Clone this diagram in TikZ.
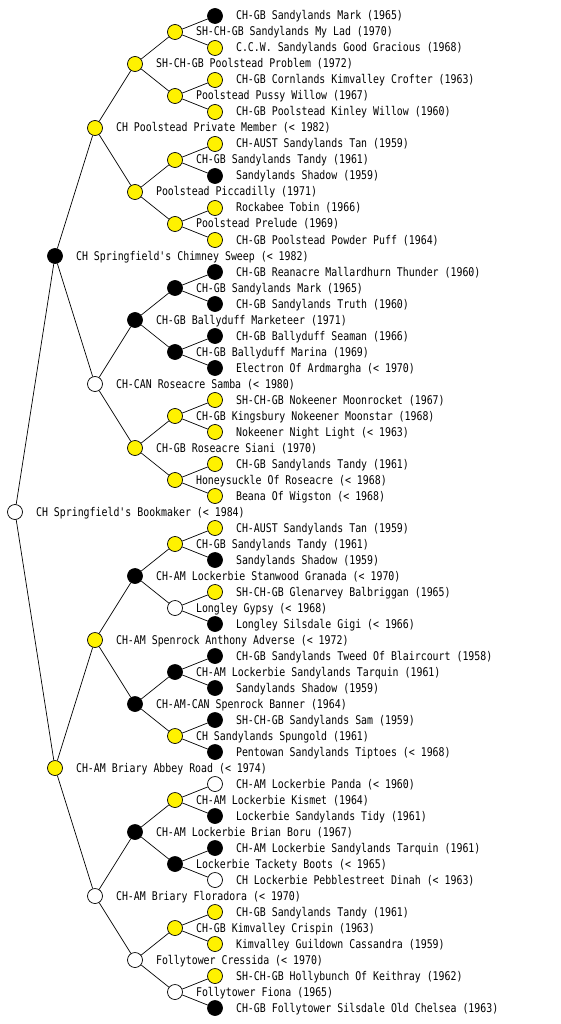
\documentclass[tikz,border=0pt]{standalone}
\usepackage{fontspec}
\newfontfamily\pedfont[FakeStretch=0.825]{DejaVu Sans Mono}
\usetikzlibrary{positioning}

\tikzset{
  dog/.style={circle,draw=black,line width=0.7pt,minimum size=15pt,inner sep=0pt},
  yel/.style={dog,fill=yellow},
  blk/.style={dog,fill=black},
  wht/.style={dog,fill=white},
  lbl/.style={anchor=west,inner sep=0pt,text height=8pt,text depth=0pt,font=\pedfont\fontsize{12pt}{14pt}\selectfont},
}

\begin{document}
\begin{tikzpicture}[x=1pt,y=-1pt]
  \useasboundingbox (0,0) rectangle (560,1024);

  \node[blk] (n1) at (215,16) {};
  \node[yel] (n2) at (175,32) {};
  \node[yel] (n3) at (215,48) {};
  \node[yel] (n4) at (135,64) {};
  \node[yel] (n5) at (215,80) {};
  \node[yel] (n6) at (175,96) {};
  \node[yel] (n7) at (215,112) {};
  \node[yel] (n8) at (95,128) {};
  \node[yel] (n9) at (215,144) {};
  \node[yel] (n10) at (175,160) {};
  \node[blk] (n11) at (215,176) {};
  \node[yel] (n12) at (135,192) {};
  \node[yel] (n13) at (215,208) {};
  \node[yel] (n14) at (175,224) {};
  \node[yel] (n15) at (215,240) {};
  \node[blk] (n16) at (55,256) {};
  \node[blk] (n17) at (215,272) {};
  \node[blk] (n18) at (175,288) {};
  \node[blk] (n19) at (215,304) {};
  \node[blk] (n20) at (135,320) {};
  \node[blk] (n21) at (215,336) {};
  \node[blk] (n22) at (175,352) {};
  \node[blk] (n23) at (215,368) {};
  \node[wht] (n24) at (95,384) {};
  \node[yel] (n25) at (215,400) {};
  \node[yel] (n26) at (175,416) {};
  \node[yel] (n27) at (215,432) {};
  \node[yel] (n28) at (135,448) {};
  \node[yel] (n29) at (215,464) {};
  \node[yel] (n30) at (175,480) {};
  \node[yel] (n31) at (215,496) {};
  \node[wht] (n32) at (15,512) {};
  \node[yel] (n33) at (215,528) {};
  \node[yel] (n34) at (175,544) {};
  \node[blk] (n35) at (215,560) {};
  \node[blk] (n36) at (135,576) {};
  \node[yel] (n37) at (215,592) {};
  \node[wht] (n38) at (175,608) {};
  \node[blk] (n39) at (215,624) {};
  \node[yel] (n40) at (95,640) {};
  \node[blk] (n41) at (215,656) {};
  \node[blk] (n42) at (175,672) {};
  \node[blk] (n43) at (215,688) {};
  \node[blk] (n44) at (135,704) {};
  \node[blk] (n45) at (215,720) {};
  \node[yel] (n46) at (175,736) {};
  \node[blk] (n47) at (215,752) {};
  \node[yel] (n48) at (55,768) {};
  \node[wht] (n49) at (215,784) {};
  \node[yel] (n50) at (175,800) {};
  \node[blk] (n51) at (215,816) {};
  \node[blk] (n52) at (135,832) {};
  \node[blk] (n53) at (215,848) {};
  \node[blk] (n54) at (175,864) {};
  \node[wht] (n55) at (215,880) {};
  \node[wht] (n56) at (95,896) {};
  \node[yel] (n57) at (215,912) {};
  \node[yel] (n58) at (175,928) {};
  \node[yel] (n59) at (215,944) {};
  \node[wht] (n60) at (135,960) {};
  \node[yel] (n61) at (215,976) {};
  \node[wht] (n62) at (175,992) {};
  \node[blk] (n63) at (215,1008) {};

  \foreach \c/\p in {1/2,3/2,5/6,7/6,9/10,11/10,13/14,15/14,17/18,19/18,21/22,23/22,
      25/26,27/26,29/30,31/30,33/34,35/34,37/38,39/38,41/42,43/42,45/46,47/46,
      49/50,51/50,53/54,55/54,57/58,59/58,61/62,63/62,
      2/4,6/4,10/12,14/12,18/20,22/20,26/28,30/28,34/36,38/36,42/44,46/44,50/52,54/52,58/60,62/60,
      4/8,12/8,20/24,28/24,36/40,44/40,52/56,60/56,
      8/16,24/16,40/48,56/48,16/32,48/32}
    \draw[line width=0.7pt] (n\c) -- (n\p);

  \node[lbl,right=13pt of n1] (t1) {CH-GB Sandylands Mark (1965)};
  \node[lbl,right=13pt of n2] (t2) {SH-CH-GB Sandylands My Lad (1970)};
  \node[lbl,right=13pt of n3] (t3) {C.C.W. Sandylands Good Gracious (1968)};
  \node[lbl,right=13pt of n4] (t4) {SH-CH-GB Poolstead Problem (1972)};
  \node[lbl,right=13pt of n5] (t5) {CH-GB Cornlands Kimvalley Crofter (1963)};
  \node[lbl,right=13pt of n6] (t6) {Poolstead Pussy Willow (1967)};
  \node[lbl,right=13pt of n7] (t7) {CH-GB Poolstead Kinley Willow (1960)};
  \node[lbl,right=13pt of n8] (t8) {CH Poolstead Private Member (< 1982)};
  \node[lbl,right=13pt of n9] (t9) {CH-AUST Sandylands Tan (1959)};
  \node[lbl,right=13pt of n10] (t10) {CH-GB Sandylands Tandy (1961)};
  \node[lbl,right=13pt of n11] (t11) {Sandylands Shadow (1959)};
  \node[lbl,right=13pt of n12] (t12) {Poolstead Piccadilly (1971)};
  \node[lbl,right=13pt of n13] (t13) {Rockabee Tobin (1966)};
  \node[lbl,right=13pt of n14] (t14) {Poolstead Prelude (1969)};
  \node[lbl,right=13pt of n15] (t15) {CH-GB Poolstead Powder Puff (1964)};
  \node[lbl,right=13pt of n16] (t16) {CH Springfield's Chimney Sweep (< 1982)};
  \node[lbl,right=13pt of n17] (t17) {CH-GB Reanacre Mallardhurn Thunder (1960)};
  \node[lbl,right=13pt of n18] (t18) {CH-GB Sandylands Mark (1965)};
  \node[lbl,right=13pt of n19] (t19) {CH-GB Sandylands Truth (1960)};
  \node[lbl,right=13pt of n20] (t20) {CH-GB Ballyduff Marketeer (1971)};
  \node[lbl,right=13pt of n21] (t21) {CH-GB Ballyduff Seaman (1966)};
  \node[lbl,right=13pt of n22] (t22) {CH-GB Ballyduff Marina (1969)};
  \node[lbl,right=13pt of n23] (t23) {Electron Of Ardmargha (< 1970)};
  \node[lbl,right=13pt of n24] (t24) {CH-CAN Roseacre Samba (< 1980)};
  \node[lbl,right=13pt of n25] (t25) {SH-CH-GB Nokeener Moonrocket (1967)};
  \node[lbl,right=13pt of n26] (t26) {CH-GB Kingsbury Nokeener Moonstar (1968)};
  \node[lbl,right=13pt of n27] (t27) {Nokeener Night Light (< 1963)};
  \node[lbl,right=13pt of n28] (t28) {CH-GB Roseacre Siani (1970)};
  \node[lbl,right=13pt of n29] (t29) {CH-GB Sandylands Tandy (1961)};
  \node[lbl,right=13pt of n30] (t30) {Honeysuckle Of Roseacre (< 1968)};
  \node[lbl,right=13pt of n31] (t31) {Beana Of Wigston (< 1968)};
  \node[lbl,right=13pt of n32] (t32) {CH Springfield's Bookmaker (< 1984)};
  \node[lbl,right=13pt of n33] (t33) {CH-AUST Sandylands Tan (1959)};
  \node[lbl,right=13pt of n34] (t34) {CH-GB Sandylands Tandy (1961)};
  \node[lbl,right=13pt of n35] (t35) {Sandylands Shadow (1959)};
  \node[lbl,right=13pt of n36] (t36) {CH-AM Lockerbie Stanwood Granada (< 1970)};
  \node[lbl,right=13pt of n37] (t37) {SH-CH-GB Glenarvey Balbriggan (1965)};
  \node[lbl,right=13pt of n38] (t38) {Longley Gypsy (< 1968)};
  \node[lbl,right=13pt of n39] (t39) {Longley Silsdale Gigi (< 1966)};
  \node[lbl,right=13pt of n40] (t40) {CH-AM Spenrock Anthony Adverse (< 1972)};
  \node[lbl,right=13pt of n41] (t41) {CH-GB Sandylands Tweed Of Blaircourt (1958)};
  \node[lbl,right=13pt of n42] (t42) {CH-AM Lockerbie Sandylands Tarquin (1961)};
  \node[lbl,right=13pt of n43] (t43) {Sandylands Shadow (1959)};
  \node[lbl,right=13pt of n44] (t44) {CH-AM-CAN Spenrock Banner (1964)};
  \node[lbl,right=13pt of n45] (t45) {SH-CH-GB Sandylands Sam (1959)};
  \node[lbl,right=13pt of n46] (t46) {CH Sandylands Spungold (1961)};
  \node[lbl,right=13pt of n47] (t47) {Pentowan Sandylands Tiptoes (< 1968)};
  \node[lbl,right=13pt of n48] (t48) {CH-AM Briary Abbey Road (< 1974)};
  \node[lbl,right=13pt of n49] (t49) {CH-AM Lockerbie Panda (< 1960)};
  \node[lbl,right=13pt of n50] (t50) {CH-AM Lockerbie Kismet (1964)};
  \node[lbl,right=13pt of n51] (t51) {Lockerbie Sandylands Tidy (1961)};
  \node[lbl,right=13pt of n52] (t52) {CH-AM Lockerbie Brian Boru (1967)};
  \node[lbl,right=13pt of n53] (t53) {CH-AM Lockerbie Sandylands Tarquin (1961)};
  \node[lbl,right=13pt of n54] (t54) {Lockerbie Tackety Boots (< 1965)};
  \node[lbl,right=13pt of n55] (t55) {CH Lockerbie Pebblestreet Dinah (< 1963)};
  \node[lbl,right=13pt of n56] (t56) {CH-AM Briary Floradora (< 1970)};
  \node[lbl,right=13pt of n57] (t57) {CH-GB Sandylands Tandy (1961)};
  \node[lbl,right=13pt of n58] (t58) {CH-GB Kimvalley Crispin (1963)};
  \node[lbl,right=13pt of n59] (t59) {Kimvalley Guildown Cassandra (1959)};
  \node[lbl,right=13pt of n60] (t60) {Follytower Cressida (< 1970)};
  \node[lbl,right=13pt of n61] (t61) {SH-CH-GB Hollybunch Of Keithray (1962)};
  \node[lbl,right=13pt of n62] (t62) {Follytower Fiona (1965)};
  \node[lbl,right=13pt of n63] (t63) {CH-GB Follytower Silsdale Old Chelsea (1963)};
\end{tikzpicture}
\end{document}
